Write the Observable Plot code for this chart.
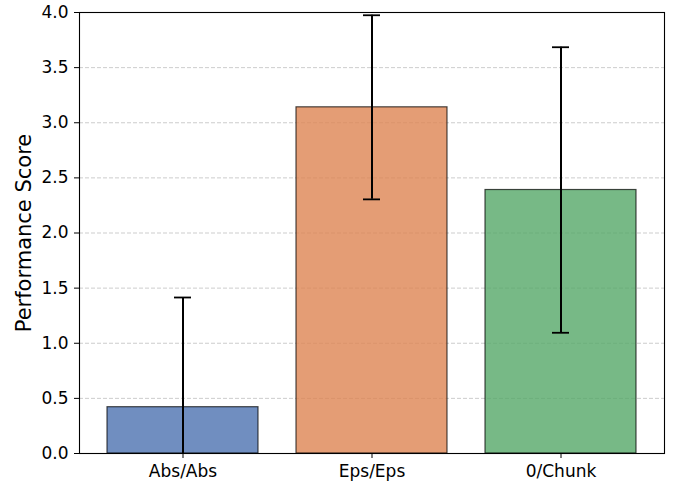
<!DOCTYPE html>
<html>
<head>
<meta charset="utf-8">
<script src="https://cdn.jsdelivr.net/npm/d3@7"></script>
<script src="https://cdn.jsdelivr.net/npm/@observablehq/plot@0.6"></script>
<style>
  html, body { margin: 0; padding: 0; background: #fff; }
  svg { font-family: "DejaVu Sans", sans-serif; }
</style>
</head>
<body>
<div id="chart"></div>
<script>
const categories = ["Abs/Abs", "Eps/Eps", "0/Chunk"];
const values = [0.42, 3.14, 2.39];
const errors = [0.995, 0.835, 1.295];
const colors = ["#4c72b0", "#dd8452", "#55a868"];
const yTicks = [0, 0.5, 1.0, 1.5, 2.0, 2.5, 3.0, 3.5, 4.0];
const yLabel = "Performance Score";

const data = categories.map((c, i) => ({cat: c, value: values[i], err: errors[i], color: colors[i]}));

const chart = Plot.plot({
  width: 673,
  height: 483,
  marginLeft: 79,
  marginRight: 9,
  marginTop: 12,
  marginBottom: 30,
  style: {fontFamily: "DejaVu Sans, sans-serif", background: "#fff"},
  x: {domain: categories, paddingInner: 0.2, paddingOuter: 0.14, label: null},
  y: {domain: [0, 4], label: null},
  marks: [
    Plot.ruleY(yTicks.filter(t => t > 0 && t < 4), {stroke: "#b0b0b0", strokeOpacity: 0.7, strokeWidth: 0.9, strokeDasharray: "4,2"}),
    Plot.barY(data, {x: "cat", y: "value", fill: "color", fillOpacity: 0.8, stroke: "black", strokeOpacity: 0.7, strokeWidth: 1.2}),
    Plot.ruleX(data, {x: "cat", y1: d => d.value - d.err, y2: d => d.value + d.err, stroke: "black", strokeWidth: 2, clip: true}),
    Plot.tickY(data, {x: "cat", y: d => d.value + d.err, insetLeft: 67, insetRight: 67, stroke: "black", strokeWidth: 1.8, clip: true}),
    Plot.tickY(data, {x: "cat", y: d => d.value - d.err, insetLeft: 67, insetRight: 67, stroke: "black", strokeWidth: 1.8, clip: true}),
    Plot.axisY({ticks: yTicks, tickFormat: d3.format(".1f"), tickSize: 5, tickPadding: 6, fontSize: 17, label: null, stroke: "black", color: "#000"}),
    Plot.axisX({tickSize: 5, tickPadding: 6, fontSize: 17, label: null, color: "#000"}),
    Plot.frame({stroke: "black", strokeWidth: 1.1}),
    Plot.text([yLabel], {frameAnchor: "left", text: d => d, rotate: -90, dx: -55, textAnchor: "middle", fontSize: 21, fill: "#000"})
  ]
});
document.getElementById("chart").appendChild(chart);
</script>
</body>
</html>
